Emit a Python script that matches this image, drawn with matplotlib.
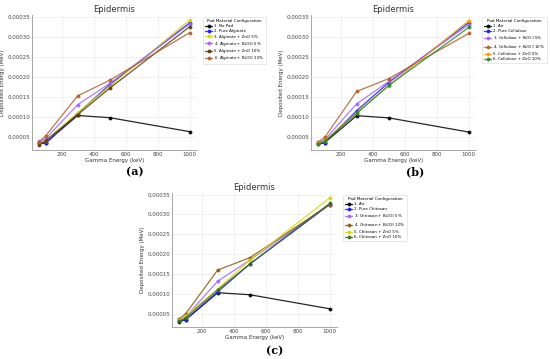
import matplotlib
matplotlib.use("Agg")
import matplotlib.pyplot as plt

energies = [60, 100, 300, 500, 1000]

# Panel (a): Alginate
labels_a = ["1. No Pad", "2. Pure Alginate", "3. Alginate + ZnO 5%",
            "4. Alginate + Bi$_2$O$_3$ 5%", "5. Alginate + ZnO 10%",
            "6. Alginate + Bi$_2$O$_3$ 10%"]
no_pad_a = [0.0000333, 0.0000350, 0.0001030, 0.0000975, 0.0000625]
pure_alginate = [0.0000330, 0.0000330, 0.0001080, 0.0001800, 0.0003350]
alg_zno5 = [0.0000350, 0.0000400, 0.0001100, 0.0001750, 0.0003420]
alg_bi5 = [0.0000380, 0.0000450, 0.0001300, 0.0001830, 0.0003320]
alg_zno10 = [0.0000300, 0.0000400, 0.0001050, 0.0001710, 0.0003250]
alg_bi10 = [0.0000370, 0.0000520, 0.0001520, 0.0001910, 0.0003100]

# Panel (b): Cellulose
labels_b = ["1. Air", "2. Pure Cellulose", "3. Cellulose + Bi$_2$O$_3$ 5%",
            "4. Cellulose + Bi$_2$O$_3$ 10%", "5. Cellulose + ZnO 5%",
            "6. Cellulose + ZnO 10%"]
air_b = [0.0000310, 0.0000350, 0.0001025, 0.0000970, 0.0000615]
pure_cellulose = [0.0000350, 0.0000350, 0.0001150, 0.0001850, 0.0003350]
cel_bi5 = [0.0000350, 0.0000420, 0.0001320, 0.0001880, 0.0003300]
cel_bi10 = [0.0000370, 0.0000480, 0.0001630, 0.0001950, 0.0003080]
cel_zno5 = [0.0000330, 0.0000400, 0.0001100, 0.0001770, 0.0003400]
cel_zno10 = [0.0000320, 0.0000380, 0.0001080, 0.0001780, 0.0003230]

# Panel (c): Chitosan
labels_c = ["1. Air", "2. Pure Chitosan", "3. Chitosan + Bi$_2$O$_3$ 5%",
            "4. Chitosan + Bi$_2$O$_3$ 10%", "5. Chitosan + ZnO 5%",
            "6. Chitosan + ZnO 10%"]
air_c = [0.0000300, 0.0000350, 0.0001030, 0.0000980, 0.0000625]
pure_chitosan = [0.0000330, 0.0000350, 0.0001050, 0.0001750, 0.0003250]
chi_bi5 = [0.0000360, 0.0000420, 0.0001320, 0.0001850, 0.0003250]
chi_bi10 = [0.0000370, 0.0000500, 0.0001600, 0.0001910, 0.0003250]
chi_zno5 = [0.0000350, 0.0000450, 0.0001120, 0.0001850, 0.0003420]
chi_zno10 = [0.0000310, 0.0000400, 0.0001100, 0.0001750, 0.0003280]

colors_a = ["black", "#1a1aff", "#d8d800", "#a066ff", "#5a3a0a", "#b0602a"]
colors_b = ["black", "#1a1aff", "#a066ff", "#b0602a", "#f0a000", "#2a8a2a"]
colors_c = ["black", "#1a1aff", "#a066ff", "#8a5a10", "#d8d800", "#3a6a1a"]

series_a = [no_pad_a, pure_alginate, alg_zno5, alg_bi5, alg_zno10, alg_bi10]
series_b = [air_b, pure_cellulose, cel_bi5, cel_bi10, cel_zno5, cel_zno10]
series_c = [air_c, pure_chitosan, chi_bi5, chi_bi10, chi_zno5, chi_zno10]

fig = plt.figure(figsize=(5.5, 3.59), dpi=100)
W, H = 550.0, 359.0

def panel(px_left, px_top, px_w, px_h, series, labels, colors, tag, tag_xy):
    ax = fig.add_axes([px_left / W, 1 - (px_top + px_h) / H, px_w / W, px_h / H])
    for ys, lab, col in zip(series, labels, colors):
        ax.plot(energies, ys, marker="o", markersize=1.8, linewidth=0.9,
                color=col, label=lab, alpha=0.85)
    ax.set_title("Epidermis", fontsize=6, pad=2.5, color="#333333")
    ax.set_xlabel("Gamma Energy (keV)", fontsize=4, labelpad=1, color="#333333")
    ax.set_ylabel("Deposited Energy (MeV)", fontsize=4, labelpad=1.5, color="#333333")
    ax.set_xlim(15, 1045)
    ax.set_ylim(0.0000167, 0.000354)
    ax.set_xticks([200, 400, 600, 800, 1000])
    ax.set_yticks([0.00005, 0.00010, 0.00015, 0.00020, 0.00025, 0.00030, 0.00035])
    ax.set_yticklabels(["0.00005", "0.00010", "0.00015", "0.00020",
                        "0.00025", "0.00030", "0.00035"])
    ax.tick_params(labelsize=4, length=0, pad=1.5, colors="#444444")
    ax.grid(True, color="#dddddd", linestyle="--", linewidth=0.4)
    for s in ["top", "right"]:
        ax.spines[s].set_visible(False)
    for s in ["left", "bottom"]:
        ax.spines[s].set_color("#999999")
        ax.spines[s].set_linewidth(0.6)
    leg = ax.legend(title="Pad Material Configuration", fontsize=2.9,
                    title_fontsize=3.0, loc="upper left",
                    bbox_to_anchor=(1.025, 1.0), frameon=True,
                    handlelength=1.7, borderpad=0.5, labelspacing=0.3,
                    handletextpad=0.5)
    leg.get_frame().set_linewidth(0.4)
    leg.get_frame().set_edgecolor("#cccccc")
    fig.text(tag_xy[0] / W, 1 - tag_xy[1] / H, tag, fontsize=8,
             fontweight="bold", family="DejaVu Serif", ha="center", va="center")
    return ax

panel(32, 15, 165, 135, series_a, labels_a, colors_a, "(a)", (135, 172))
panel(311, 15, 165, 135, series_b, labels_b, colors_b, "(b)", (415, 172))
panel(172, 193, 165, 134, series_c, labels_c, colors_c, "(c)", (275, 351))

fig.savefig("out.png", dpi=100)
